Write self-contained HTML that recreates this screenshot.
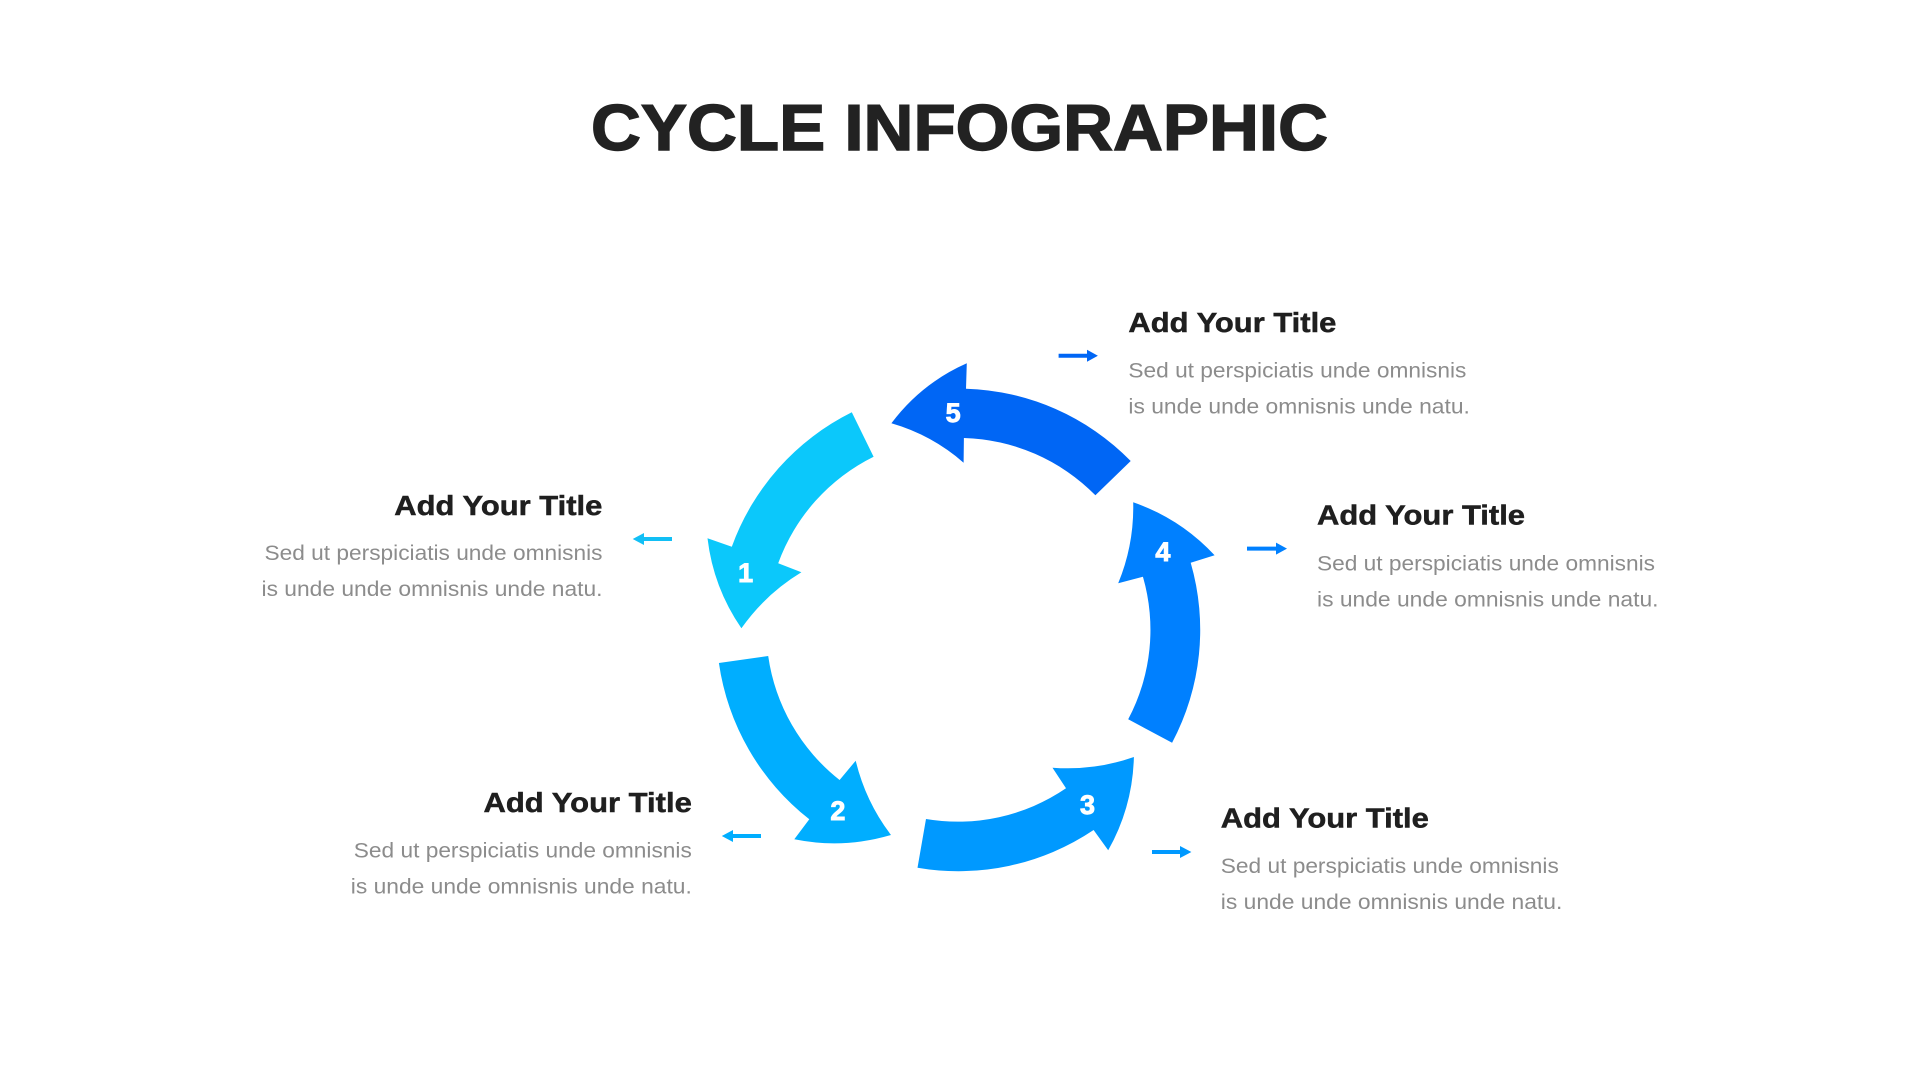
<!DOCTYPE html>
<html>
<head>
<meta charset="utf-8">
<title>Cycle Infographic</title>
<style>
html,body{margin:0;padding:0;background:#fff;width:1920px;height:1080px;overflow:hidden}
svg{display:block}
text{font-family:"Liberation Sans",Arial,sans-serif}
.h{font-size:65px;font-weight:700;fill:#222;stroke:#222;stroke-width:1.4px}
.t{font-size:28px;font-weight:700;fill:#1f1f1f;stroke:#1f1f1f;stroke-width:.5px}
.b{font-size:21px;fill:#8c8c8c}
.n{font-size:27px;font-weight:700;fill:#fff;stroke:#fff;stroke-width:.9px;text-anchor:middle}
</style>
</head>
<body>
<svg width="1920" height="1080" viewBox="0 0 1920 1080" xmlns="http://www.w3.org/2000/svg">
<rect width="1920" height="1080" fill="#fff"/>

<text class="h" x="591" y="150" textLength="737" lengthAdjust="spacingAndGlyphs">CYCLE INFOGRAPHIC</text>

<!-- ring arrows -->
<path fill="#0bc8fb" d="M851.8 412.3 A242 242 0 0 0 731.8 546.7 L707.5 538.3 A200 200 0 0 0 741.4 628.3 A200 200 0 0 1 801.4 572.3 L778.2 563.3 A192 192 0 0 1 873.6 456.7 Z"/>
<path fill="#00aeff" d="M718.9 663 A242 242 0 0 0 809.3 819.3 L794.3 839.3 A200 200 0 0 0 891 835 A200 200 0 0 1 855.7 760.7 L839.6 780 A192 192 0 0 1 768.2 656 Z"/>
<path fill="#0099ff" d="M917.5 867.7 A242 242 0 0 0 1093.6 830 L1108.2 850.3 A200 200 0 0 0 1133.9 757 A200 200 0 0 1 1052.5 767.7 L1066 788.3 A192 192 0 0 1 926 819 Z"/>
<path fill="#0080ff" d="M1172.1 742.7 A241 241 0 0 0 1190.7 562.7 L1214.6 555.3 A200 200 0 0 0 1133.2 502.3 A200 200 0 0 1 1118.2 583.3 L1142.9 576.7 A191 191 0 0 1 1128.2 719.3 Z"/>
<path fill="#0066f5" d="M1130.7 461 A241 241 0 0 0 966 388.7 L966.8 363.3 A190 190 0 0 0 891.4 423.3 A190 190 0 0 1 963.6 462.7 L963.9 438 A192 192 0 0 1 1095.4 495.3 Z"/>

<!-- numbers -->
<text class="n" x="745.7" y="582">1</text>
<text class="n" x="837.9" y="820">2</text>
<text class="n" x="1087.5" y="814">3</text>
<text class="n" x="1162.9" y="561">4</text>
<text class="n" x="953.2" y="422">5</text>

<!-- small arrows -->
<path fill="#12bff5" d="M632.7 539 L644 533 L644 537 L672 537 L672 541 L644 541 L644 545 Z"/>
<path fill="#00aeff" d="M721.8 836 L733 830 L733 834 L761 834 L761 838 L733 838 L733 842 Z"/>
<path fill="#0099ff" d="M1191.4 852 L1180 846 L1180 850 L1152 850 L1152 854 L1180 854 L1180 858 Z"/>
<path fill="#0080ff" d="M1287 548.6 L1276 542.6 L1276 546.6 L1247 546.6 L1247 550.6 L1276 550.6 L1276 554.6 Z"/>
<path fill="#0066f5" d="M1097.9 355.7 L1087 349.7 L1087 353.7 L1058.6 353.7 L1058.6 357.7 L1087 357.7 L1087 361.7 Z"/>

<!-- block 1 -->
<text class="t" x="394.3" y="515" textLength="208" lengthAdjust="spacingAndGlyphs">Add Your Title</text>
<text class="b" x="264.5" y="560" textLength="338" lengthAdjust="spacingAndGlyphs">Sed ut perspiciatis unde omnisnis</text>
<text class="b" x="261.5" y="596" textLength="341" lengthAdjust="spacingAndGlyphs">is unde unde omnisnis unde natu.</text>

<!-- block 2 -->
<text class="t" x="483.5" y="812" textLength="208.3" lengthAdjust="spacingAndGlyphs">Add Your Title</text>
<text class="b" x="353.8" y="857.5" textLength="338" lengthAdjust="spacingAndGlyphs">Sed ut perspiciatis unde omnisnis</text>
<text class="b" x="350.8" y="893.5" textLength="341" lengthAdjust="spacingAndGlyphs">is unde unde omnisnis unde natu.</text>

<!-- block 3 -->
<text class="t" x="1220.8" y="827.5" textLength="208" lengthAdjust="spacingAndGlyphs">Add Your Title</text>
<text class="b" x="1220.8" y="873" textLength="338" lengthAdjust="spacingAndGlyphs">Sed ut perspiciatis unde omnisnis</text>
<text class="b" x="1220.8" y="909" textLength="341.5" lengthAdjust="spacingAndGlyphs">is unde unde omnisnis unde natu.</text>

<!-- block 4 -->
<text class="t" x="1317" y="524.5" textLength="208" lengthAdjust="spacingAndGlyphs">Add Your Title</text>
<text class="b" x="1317" y="570.5" textLength="338" lengthAdjust="spacingAndGlyphs">Sed ut perspiciatis unde omnisnis</text>
<text class="b" x="1317" y="606.5" textLength="341.5" lengthAdjust="spacingAndGlyphs">is unde unde omnisnis unde natu.</text>

<!-- block 5 -->
<text class="t" x="1128.4" y="332" textLength="208" lengthAdjust="spacingAndGlyphs">Add Your Title</text>
<text class="b" x="1128.4" y="377.5" textLength="338" lengthAdjust="spacingAndGlyphs">Sed ut perspiciatis unde omnisnis</text>
<text class="b" x="1128.4" y="413.5" textLength="341.5" lengthAdjust="spacingAndGlyphs">is unde unde omnisnis unde natu.</text>
</svg>
</body>
</html>
